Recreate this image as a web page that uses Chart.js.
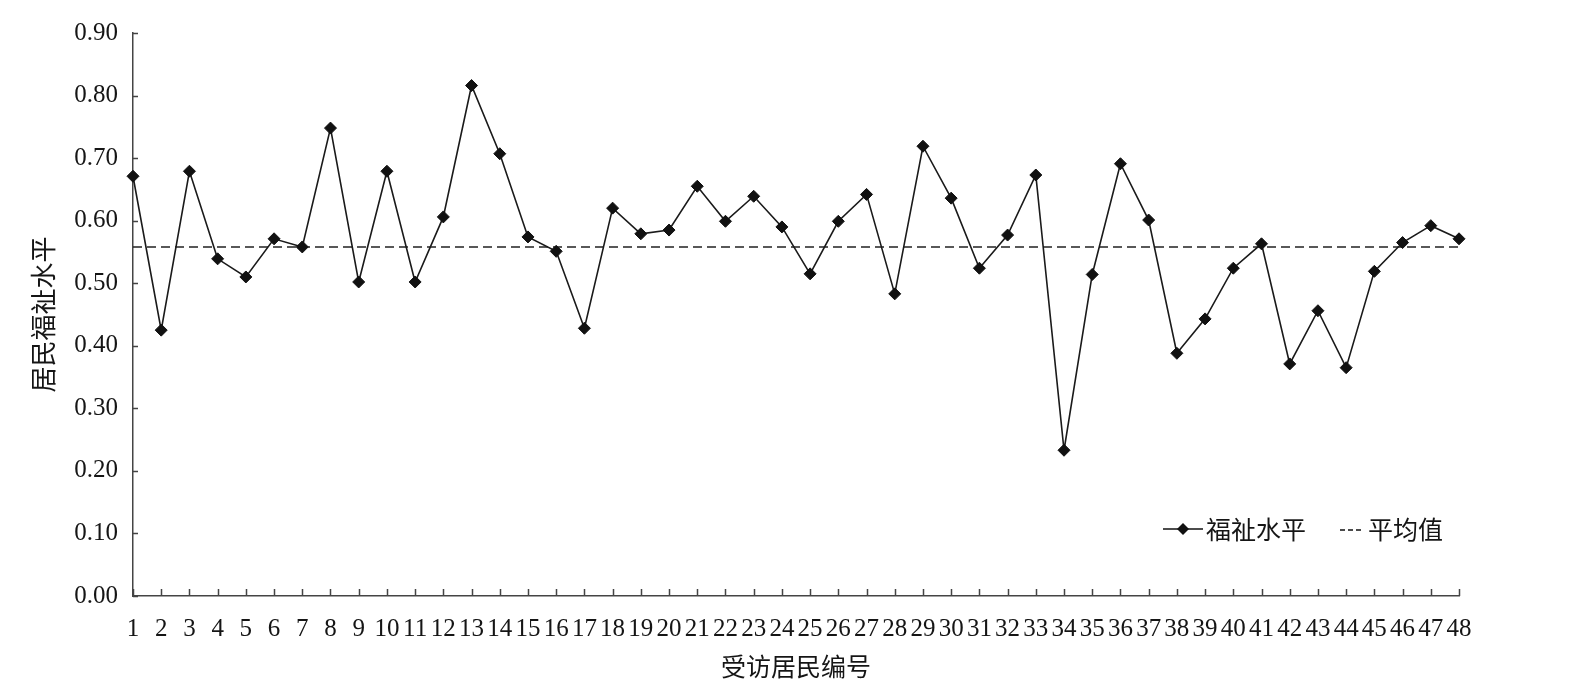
<!DOCTYPE html>
<html>
<head>
<meta charset="utf-8">
<script src="https://cdn.jsdelivr.net/npm/chart.js@4.4.1/dist/chart.umd.min.js"></script>
<style>
html,body{margin:0;padding:0;background:#fff;}
#wrap{width:1581px;height:697px;position:relative;}
</style>
</head>
<body>
<div id="wrap"><canvas id="c" width="1581" height="697"></canvas></div>
<script>
// ---- data ----
const categories = Array.from({length: 48}, (_, i) => String(i + 1));
const welfareValues = [
  0.671, 0.425, 0.679, 0.539, 0.510, 0.571, 0.558, 0.748, 0.502, 0.679,
  0.502, 0.606, 0.816, 0.707, 0.574, 0.551, 0.428, 0.620, 0.579, 0.585,
  0.655, 0.599, 0.639, 0.590, 0.515, 0.599, 0.642, 0.483, 0.719, 0.636,
  0.524, 0.577, 0.673, 0.233, 0.514, 0.691, 0.601, 0.388, 0.443, 0.524,
  0.563, 0.371, 0.456, 0.365, 0.519, 0.565, 0.592, 0.571
];
const meanValue = 0.558;
const meanValues = categories.map(() => meanValue);
const seriesLabels = ['福祉水平', '平均值'];
const xTitle = '受访居民编号';
const yTitle = '居民福祉水平';
const yMin = 0, yMax = 0.9, yStep = 0.1;

const SERIF = '"Liberation Serif", "Noto Sans CJK SC", serif';
const CJK = '"Noto Sans CJK SC", "Liberation Serif", sans-serif';
const AXIS_COLOR = '#444';
const TEXT_COLOR = '#151515';

// inward tick marks + legend inside the plot
const decor = {
  id: 'decor',
  afterDraw(chart) {
    const ctx = chart.ctx;
    const xs = chart.scales.x, ys = chart.scales.y;
    const area = chart.chartArea;
    ctx.save();
    ctx.strokeStyle = AXIS_COLOR;
    ctx.lineWidth = 1.5;
    ctx.beginPath();
    ys.ticks.forEach((t, i) => {
      const y = Math.round(ys.getPixelForTick(i)) + 0.5;
      ctx.moveTo(area.left, y); ctx.lineTo(area.left + 5, y);
    });
    xs.ticks.forEach((t, i) => {
      const x = Math.round(xs.getPixelForTick(i)) + 0.5;
      ctx.moveTo(x, area.bottom); ctx.lineTo(x, area.bottom - 7);
    });
    ctx.stroke();

    // legend
    const ly = area.top + 496;
    let lx = area.left + 1030;
    ctx.strokeStyle = '#111';
    ctx.lineWidth = 1.5;
    ctx.setLineDash([]);
    ctx.beginPath(); ctx.moveTo(lx, ly); ctx.lineTo(lx + 40, ly); ctx.stroke();
    ctx.fillStyle = '#111';
    ctx.beginPath();
    ctx.moveTo(lx + 20, ly - 6); ctx.lineTo(lx + 26, ly); ctx.lineTo(lx + 20, ly + 6); ctx.lineTo(lx + 14, ly);
    ctx.closePath(); ctx.fill();
    ctx.font = '25px ' + CJK;
    ctx.textBaseline = 'middle';
    ctx.textAlign = 'left';
    ctx.fillStyle = TEXT_COLOR;
    ctx.fillText(chart.data.datasets[0].label, lx + 43, ly);
    lx = area.left + 1207;
    ctx.strokeStyle = '#111';
    ctx.setLineDash([5, 3]);
    ctx.beginPath(); ctx.moveTo(lx, ly + 1); ctx.lineTo(lx + 23, ly + 1); ctx.stroke();
    ctx.setLineDash([]);
    ctx.fillText(chart.data.datasets[1].label, lx + 28, ly);
    ctx.restore();
  }
};

new Chart(document.getElementById('c'), {
  type: 'line',
  data: {
    labels: categories,
    datasets: [
      {
        label: seriesLabels[0],
        data: welfareValues,
        borderColor: '#1a1a1a',
        backgroundColor: '#1a1a1a',
        borderWidth: 1.6,
        pointStyle: 'rectRot',
        pointRadius: 6,
        pointBackgroundColor: '#111',
        pointBorderColor: '#111',
        pointBorderWidth: 1,
        tension: 0,
        order: 1
      },
      {
        label: seriesLabels[1],
        data: meanValues,
        borderColor: '#222',
        borderWidth: 1.5,
        borderDash: [9, 5],
        pointRadius: 0,
        tension: 0,
        order: 2
      }
    ]
  },
  options: {
    responsive: false,
    animation: false,
    events: [],
    layout: { padding: { left: 28, right: 122, top: 33, bottom: 8 } },
    plugins: { legend: { display: false }, tooltip: { enabled: false } },
    scales: {
      x: {
        offset: false,
        grid: { display: false, drawTicks: false },
        border: { display: true, color: AXIS_COLOR, width: 1.5 },
        ticks: {
          autoSkip: false, maxRotation: 0, minRotation: 0,
          padding: 18, color: TEXT_COLOR,
          font: { family: SERIF, size: 25 }
        },
        title: {
          display: true, text: xTitle, color: TEXT_COLOR,
          font: { family: CJK, size: 25, lineHeight: 1.0 }, padding: { top: -8, bottom: 10 }
        }
      },
      y: {
        min: yMin, max: yMax,
        grid: { display: false, drawTicks: false },
        border: { display: true, color: AXIS_COLOR, width: 1.5 },
        ticks: {
          stepSize: yStep, padding: 15, color: TEXT_COLOR,
          font: { family: SERIF, size: 25 },
          callback: v => Number(v).toFixed(2)
        },
        title: {
          display: true, text: yTitle, color: TEXT_COLOR,
          font: { family: CJK, size: 26 }, padding: { top: 0, bottom: 0 }
        },
        afterFit(scale) { scale.width = 105; }
      }
    }
  },
  plugins: [decor]
});
</script>
</body>
</html>
